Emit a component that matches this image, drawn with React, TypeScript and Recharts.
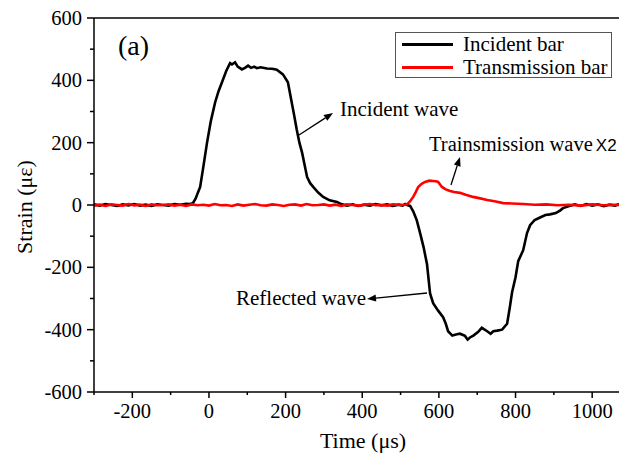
import React from "react";
import { LineChart, Line, XAxis, YAxis, Legend, ReferenceLine, Customized } from "recharts";

// ---------- data ----------
const incidentTime = [
  -300, -285, -270, -255, -240, -225, -210, -195, -180, -165, -150, -135, -120, -105, -90, -75, -60, -50,
  -42, -35, -23, -15, -5, 5, 16, 25, 34, 45, 55, 60, 68, 75, 86, 95, 102, 110, 118, 125, 135, 151, 165, 177,
  193, 206, 216, 222, 229, 236, 243, 256, 264, 272, 285, 298, 315, 334, 345,
  360, 375, 390, 405, 420, 435, 450, 465, 480, 495, 505, 512, 517, 525, 533, 542, 551, 560, 569, 577, 585,
  598, 611, 618, 624, 635, 647, 655, 668, 675, 681, 690, 702, 712, 726, 735, 742, 752, 765, 778, 785, 791,
  800, 807, 820, 830, 838, 850, 864, 878, 890, 905, 916, 924, 940, 955, 970, 985, 1000, 1015, 1030, 1045, 1060, 1070,
];
const incidentStrain = [
  2, -2, 3, 0, -3, 2, -1, 3, -2, 1, -3, 2, 0, -2, 3, 1, 4, 3,
  6, 20, 58, 120, 200, 270, 329, 365, 394, 430, 455, 451, 458, 444, 435, 441, 447, 440, 444, 439, 442, 438, 437, 434,
  419, 394, 329, 290, 242, 200, 168, 90, 70, 58, 40, 26, 15, 10, 3,
  -2, 2, -3, 1, -2, 3, -1, 2, -3, 1, -2, 3, 0, -3, -20, -48, -90, -135, -190, -284, -315, -339,
  -360, -381, -405, -419, -415, -413, -420, -432, -425, -419, -408, -394, -405, -413, -405, -403, -400, -381, -329, -280, -232,
  -180, -145, -90, -65, -48, -40, -32, -30, -26, -18, -10, -3, 2, -3, 3, -2, 2, -4, 1, -2, 3, 0,
];

const transTime = [
  -300, -285, -270, -255, -240, -225, -210, -195, -180, -165, -150, -135, -120, -105, -90, -75, -60, -45, -30,
  -15, 0, 15, 30, 45, 60, 75, 90, 105, 120, 135, 150, 165, 180, 195, 210, 225, 240, 255, 270, 285, 300, 315,
  330, 345, 360, 375, 390, 405, 420, 435, 450, 465, 480, 495, 508, 517, 525, 533, 540, 546, 555, 564, 575,
  585, 592, 598, 603, 608, 618, 629, 640, 655, 670, 689, 705, 726, 745, 768, 790, 820, 850, 880, 910, 940,
  970, 1000, 1030, 1060, 1070,
];
const transStrain = [
  -2, 1, -3, 2, 0, -2, 3, -1, 1, -3, 2, -1, 0, 2, -2, 1, -3, 2, -1,
  1, -2, 3, -1, 0, -3, 2, -2, 1, 3, -1, -2, 2, 0, -3, 1, 2, -2, 3, -1, 0, 2, -2,
  1, -3, 2, 0, -2, 1, 3, -1, 0, -2, 2, 1, 0, 2, 12, 26, 42, 58, 68, 74, 78,
  77, 76, 74, 66, 58, 50, 45, 42, 39, 33, 26, 22, 16, 12, 6, 5, 3, 1, 2, -1, 1,
  -2, 2, -1, 1, 0,
];

const xTicks = [-300, -200, -100, 0, 100, 200, 300, 400, 500, 600, 700, 800, 900, 1000];
const yTicks = [-600, -500, -400, -300, -200, -100, 0, 100, 200, 300, 400, 500, 600];
const xMajor = [-200, 0, 200, 400, 600, 800, 1000];
const yMajor = [-600, -400, -200, 0, 200, 400, 600];

const incidentData = incidentTime.map((t, i) => ({ x: t, y: incidentStrain[i] }));
const transData = transTime.map((t, i) => ({ x: t, y: transStrain[i] }));

const FONT = "'Liberation Serif', 'Times New Roman', serif";

const XTick = (p: any) => {
  const { x, y, payload } = p;
  const v = payload.value;
  const major = xMajor.includes(v);
  return (
    <g>
      <line x1={x} x2={x} y1={y} y2={y + (major ? 6 : 3)} stroke="#000" strokeWidth={1.5} />
      {major && (
        <text x={x} y={y + 26} textAnchor="middle" fontFamily={FONT} fontSize={20.5} fill="#000">
          {String(v)}
        </text>
      )}
    </g>
  );
};

const YTick = (p: any) => {
  const { x, y, payload } = p;
  const v = payload.value;
  const major = yMajor.includes(v);
  return (
    <g>
      <line x1={x - (major ? 7 : 4)} x2={x} y1={y} y2={y} stroke="#000" strokeWidth={1.5} />
      {major && (
        <text x={x - 12} y={y + 7} textAnchor="end" fontFamily={FONT} fontSize={20.5} fill="#000">
          {String(v)}
        </text>
      )}
    </g>
  );
};

const arrow = (x1: number, y1: number, x2: number, y2: number) => {
  const a = Math.atan2(y2 - y1, x2 - x1);
  const L = 9, W = 3.5;
  const bx = x2 - L * Math.cos(a), by = y2 - L * Math.sin(a);
  const px = -Math.sin(a) * W, py = Math.cos(a) * W;
  return (
    <g>
      <line x1={x1} y1={y1} x2={bx} y2={by} stroke="#000" strokeWidth={1.3} />
      <polygon points={`${x2},${y2} ${bx + px},${by + py} ${bx - px},${by - py}`} fill="#000" />
    </g>
  );
};

const Annotations = () => (
  <g fontFamily={FONT} fill="#000">
    <text x={118} y={55} fontSize={28}>(a)</text>
    <text x={340} y={116} fontSize={21}>Incident wave</text>
    {arrow(299, 135, 333, 113)}
    <text x={429} y={151} fontSize={20.5}>
      Trainsmission wave
      <tspan fontFamily="'Liberation Sans Narrow', 'Liberation Sans', sans-serif" fontSize={17} dx={3}>X2</tspan>
    </text>
    {arrow(451, 185, 460, 157)}
    <text x={236} y={305} fontSize={21}>Reflected wave</text>
    {arrow(427, 293, 367, 299)}
    <text x={363} y={448} fontSize={22} textAnchor="middle">Time (μs)</text>
    <text
      x={24}
      y={207}
      fontSize={22}
      textAnchor="middle"
      dominantBaseline="central"
      transform="rotate(-90 24 207)"
    >
      Strain (με)
    </text>
  </g>
);

const LegendBox = () => (
  <div
    style={{
      width: 217,
      height: 46,
      boxSizing: "border-box",
      border: "1px solid #555",
      background: "#fff",
      fontFamily: FONT,
      fontSize: 21,
      position: "relative",
    }}
  >
    {[
      { name: "Incident bar", color: "#000", top: 12 },
      { name: "Transmission bar", color: "#ff0000", top: 35 },
    ].map((r) => (
      <div key={r.name}>
        <div
          style={{ position: "absolute", left: 6, top: r.top - 1.5 - 1, width: 51, height: 3, background: r.color }}
        />
        <div style={{ position: "absolute", left: 67, top: r.top - 13, lineHeight: "24px", whiteSpace: "nowrap" }}>
          {r.name}
        </div>
      </div>
    ))}
  </div>
);

export default function App() {
  return (
    <div style={{ width: 619, height: 460 }}>
      <style>{`html, body { margin: 0; padding: 0; overflow: hidden; }`}</style>
      <LineChart width={619} height={460} margin={{ top: 18, right: 0, bottom: 0, left: 8 }}>
        <XAxis
          dataKey="x"
          type="number"
          domain={[-300, 1070]}
          ticks={xTicks}
          interval={0}
          allowDataOverflow
          height={68}
          tickSize={0}
          tickMargin={0}
          tick={(p: any) => <XTick {...p} />}
          axisLine={{ stroke: "#000", strokeWidth: 1.5 }}
        />
        <YAxis
          dataKey="y"
          type="number"
          domain={[-600, 600]}
          ticks={yTicks}
          interval={0}
          allowDataOverflow
          width={86}
          tickSize={0}
          tickMargin={0}
          tick={(p: any) => <YTick {...p} />}
          axisLine={{ stroke: "#000", strokeWidth: 1.5 }}
        />
        <ReferenceLine y={600} stroke="#000" strokeWidth={1.5} />
        <Line
          data={incidentData}
          dataKey="y"
          name="Incident bar"
          stroke="#000"
          strokeWidth={2.6}
          dot={false}
          type="linear"
          isAnimationActive={false}
        />
        <Line
          data={transData}
          dataKey="y"
          name="Transmission bar"
          stroke="#ff0000"
          strokeWidth={2.6}
          dot={false}
          type="linear"
          isAnimationActive={false}
        />
        <Legend
          layout="horizontal"
          verticalAlign="middle"
          align="center"
          content={() => <LegendBox />}
          wrapperStyle={{ position: "absolute", left: 395, top: 32, width: 217, height: 46 }}
        />
        <Customized component={<Annotations />} />
      </LineChart>
    </div>
  );
}
